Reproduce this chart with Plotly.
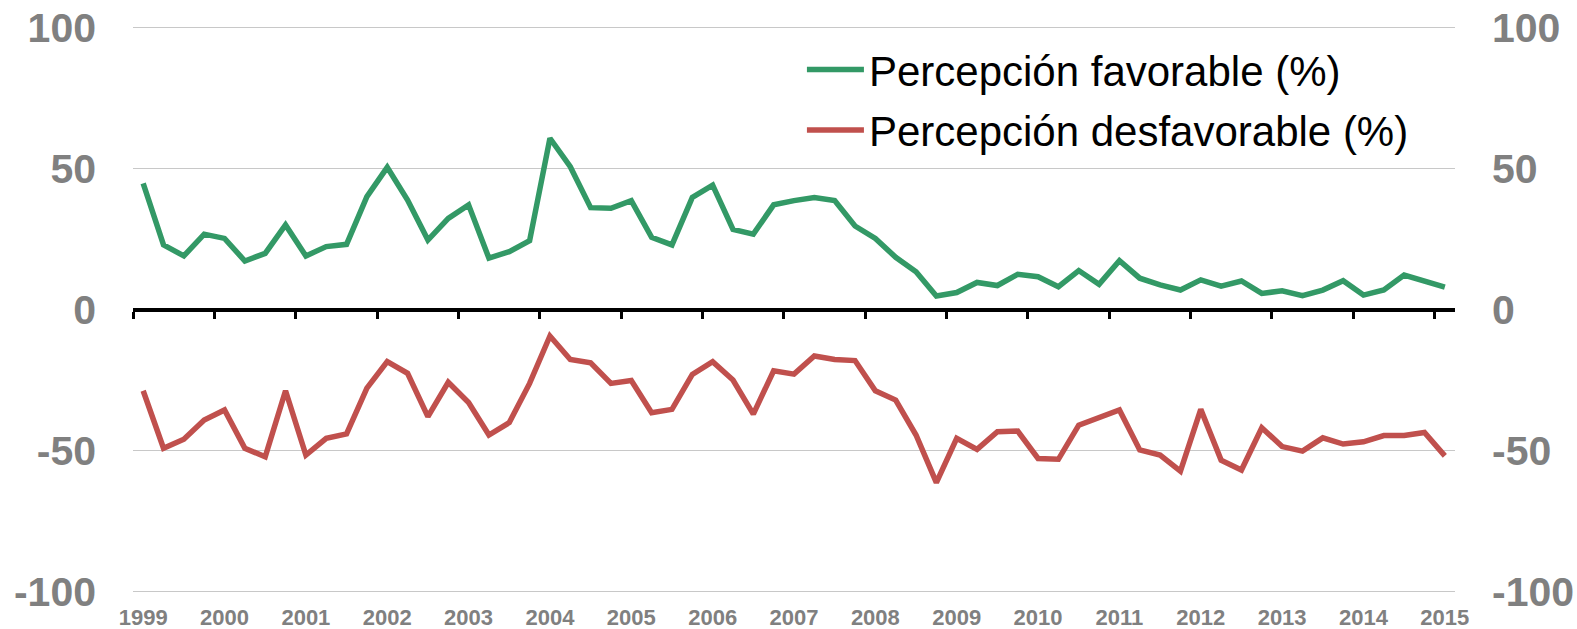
import plotly.graph_objects as go

years = [str(y) for y in range(1999, 2016)]
quarters = [f"{y}-T{q}" for y in range(1999, 2016) for q in range(1, 5)][:65]

favorable = [44.7, 22.9, 19.0, 26.7, 25.2, 17.2, 19.9, 30.0, 19.0, 22.3,
             23.1, 40.0, 50.4, 38.8, 24.6, 32.3, 37.1, 18.2, 20.5, 24.4,
             60.7, 50.6, 36.1, 35.9, 38.6, 25.6, 22.9, 39.7, 44.1, 28.4,
             26.7, 37.1, 38.6, 39.7, 38.6, 29.6, 25.2, 18.5, 13.4, 4.8,
             6.0, 9.6, 8.5, 12.5, 11.6, 8.1, 13.8, 8.9, 17.3, 11.1,
             8.7, 6.9, 10.5, 8.3, 10.1, 5.7, 6.6, 4.9, 6.9, 10.2,
             5.1, 6.9, 12.2, 10.1, 7.9]

desfavorable = [-28.8, -49.2, -46.0, -39.2, -35.6, -49.2, -52.2, -28.8, -51.6, -45.7,
                -44.1, -27.9, -18.5, -22.6, -38.0, -25.8, -33.0, -44.5, -40.1, -26.2,
                -9.4, -17.7, -18.9, -26.2, -25.2, -36.6, -35.4, -23.0, -18.5, -25.0,
                -37.1, -21.7, -22.9, -16.5, -17.7, -18.1, -28.8, -32.1, -44.5, -61.4,
                -45.7, -49.6, -43.3, -43.1, -52.8, -53.1, -41.0, -38.2, -35.6, -49.8,
                -51.6, -57.3, -35.4, -53.4, -56.9, -41.9, -48.6, -50.2, -45.5, -47.7,
                -46.9, -44.7, -44.7, -43.6, -51.9]

y_ticks = [100, 50, 0, -50, -100]
y_ticktext = ["100", "50", "0", "-50", "-100"]

idx = list(range(len(quarters)))
year_label_pos = [i * 4 for i in range(len(years))]
year_tick_pos = [i * 4 - 0.5 for i in range(len(years))]
xrange = [-0.5, len(quarters) - 0.5]
yrange = [-100.5, 100.5]

GRAY = "#808080"
yfont = dict(family="Liberation Sans, Arial, sans-serif", size=41, color=GRAY, weight="bold")
xfont = dict(family="Liberation Sans, Arial, sans-serif", size=22, color=GRAY, weight="bold")

fig = go.Figure()
fig.add_trace(go.Scatter(
    x=idx, y=favorable, name="Percepción favorable (%)", mode="lines",
    line=dict(color="#339966", width=5.5), xaxis="x", yaxis="y", legendgroup="a",
    text=quarters))
fig.add_trace(go.Scatter(
    x=idx, y=desfavorable, name="Percepción desfavorable (%)", mode="lines",
    line=dict(color="#C0504D", width=5.5), xaxis="x2", yaxis="y2", legendgroup="b",
    text=quarters))

fig.update_layout(
    template="none",
    width=1577, height=629,
    margin=dict(l=133, r=122, t=26, b=36, autoexpand=False),
    paper_bgcolor="white", plot_bgcolor="white",
    xaxis=dict(range=xrange, tickmode="array", tickvals=year_label_pos, ticktext=years,
               showgrid=False, zeroline=False, showline=False, ticks="",
               tickfont=xfont, ticklabelstandoff=9, automargin=False),
    xaxis2=dict(range=xrange, overlaying="x", anchor="free", position=0.5,
                tickmode="array", tickvals=year_tick_pos, showticklabels=False,
                showgrid=False, zeroline=False, showline=True, linecolor="black",
                linewidth=4, ticks="outside", ticklen=7, tickwidth=3, tickcolor="black",
                automargin=False),
    yaxis=dict(range=yrange, tickmode="array", tickvals=y_ticks, ticktext=y_ticktext,
               showgrid=True, gridcolor="#c8c8c8", gridwidth=1.3, zeroline=False,
               showline=False, ticks="", tickfont=yfont, ticklabelstandoff=36,
               automargin=False),
    yaxis2=dict(range=yrange, overlaying="y", side="right", anchor="x2",
                tickmode="array", tickvals=y_ticks, ticktext=y_ticktext,
                showgrid=False, zeroline=False, showline=False, ticks="",
                tickfont=yfont, ticklabelstandoff=36, automargin=False),
    legend=dict(x=0.506, y=0.983, xanchor="left", yanchor="top",
                font=dict(family="Liberation Sans, Arial, sans-serif", size=42, color="black"),
                bgcolor="rgba(0,0,0,0)", borderwidth=0, tracegroupgap=3,
                traceorder="grouped", itemwidth=57),
    showlegend=True,
)

fig.write_html("out.html", config={"displayModeBar": False},
               post_script="document.body.style.margin='0';document.body.style.overflow='hidden';")
